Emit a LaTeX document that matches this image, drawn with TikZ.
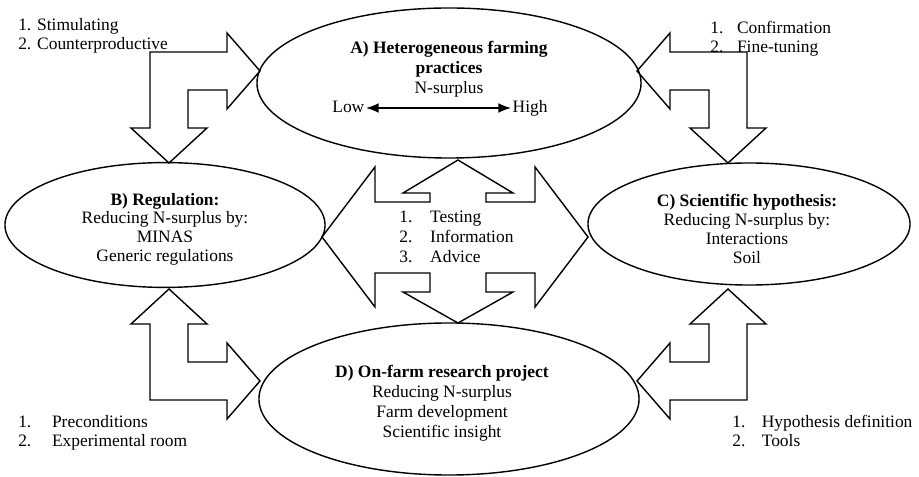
\documentclass[tikz,border=0pt]{standalone}
\usepackage{fontspec}
\setmainfont{Liberation Serif}
\usetikzlibrary{arrows.meta,positioning,shapes.geometric}
\newcommand{\numlab}[2][20pt]{\makebox[#1][l]{#2}}
\tikzset{
	oval/.style={ellipse,draw,line width=1pt,inner sep=0pt},
	ovaltext/.style={align=center,font=\fontsize{12.4pt}{13.3pt}\selectfont},
	blockarrow/.style={draw,line width=1pt,line join=miter},
	list/.style={align=left,inner sep=0pt,font=\fontsize{12.4pt}{13.2pt}\selectfont},
	lh/.style={inner sep=1pt,text height=1.5ex,text depth=.25ex},
	pics/bentarrow/.style={code={
			\draw[blockarrow] (0,0) -- (77,0) -- (77,-19) -- (110,19) -- (77,57) -- (77,38)
			-- (38,38) -- (38,76) -- (57,76) -- (19,111) -- (-19,76) -- (0,76) -- cycle;
	}}
}

\begin{document}
\begin{tikzpicture}[x=0.025cm,y=-0.025cm,font=\fontsize{12.4pt}{14.2pt}\selectfont]
	\useasboundingbox (0,0) rectangle (919,477);
	% ellipses
	\node[oval,minimum width=9.6cm,minimum height=3.75cm] (A) at (449,83) {};
	\node[oval,minimum width=8cm,minimum height=3.12cm] (B) at (165,225) {};
	\node[oval,minimum width=8.05cm,minimum height=3.05cm] (C) at (749,224) {};
	\node[oval,minimum width=9.5cm,minimum height=3.8cm] (D) at (449,399) {};
	% texts inside
	\node[align=center] (Atxt) at (449,69) {\textbf{A) Heterogeneous farming}\\\textbf{practices}\\N-surplus};
	\node[lh,anchor=east] (low) at (366,108) {Low};
	\node[lh,anchor=west] (high) at (511,108) {High};
	\draw[line width=1pt,{Latex[length=9pt,width=7pt]}-{Latex[length=9pt,width=7pt]}] (low) -- (high);
	\node[ovaltext] (Btxt) at (165,229) {\textbf{B) Regulation:}\\Reducing N-surplus by:\\MINAS\\Generic regulations};
	\node[ovaltext] (Ctxt) at (747,229) {\textbf{C) Scientific hypothesis:}\\Reducing N-surplus by:\\Interactions\\Soil};
	\node[align=center] (Dtxt) at (442,403) {\textbf{D) On-farm research project}\\Reducing N-surplus\\Farm development\\Scientific insight};
	% lists
	\node[list,anchor=west] (stim) at (18,36) {1. Stimulating\\2. Counterproductive};
	\node[list,anchor=west] (conf) at (710,39) {\numlab[19pt]{1.}Confirmation\\\numlab[19pt]{2.}Fine-tuning};
	\node[list,anchor=west] (prec) at (18,433) {\numlab[24pt]{1.}Preconditions\\\numlab[24pt]{2.}Experimental room};
	\node[list,anchor=west] (hypo) at (732,431) {\numlab[21pt]{1.}Hypothesis definition\\\numlab[21pt]{2.}Tools};
	\node[align=left,inner sep=0pt,anchor=west] (test) at (399,237) {\numlab[22pt]{1.}Testing\\\numlab[22pt]{2.}Information\\\numlab[22pt]{3.}Advice};
	% block arrows
	\draw[blockarrow] (458,160) -- (513,193) -- (486,193) -- (486,202) -- (535,202) -- (535,167)
	-- (588,237) -- (535,307) -- (535,273) -- (486,273) -- (486,292) -- (513,292) -- (458,323)
	-- (403,292) -- (430,292) -- (430,273) -- (375,273) -- (375,307) -- (322,237) -- (375,167)
	-- (375,202) -- (430,202) -- (430,193) -- (403,193) -- cycle;
	\pic at (150,52) {bentarrow};
	\pic[xscale=-1] at (747,52) {bentarrow};
	\pic[yscale=-1] at (150,400) {bentarrow};
	\pic[xscale=-1,yscale=-1] at (747,400) {bentarrow};
\end{tikzpicture}
\end{document}
